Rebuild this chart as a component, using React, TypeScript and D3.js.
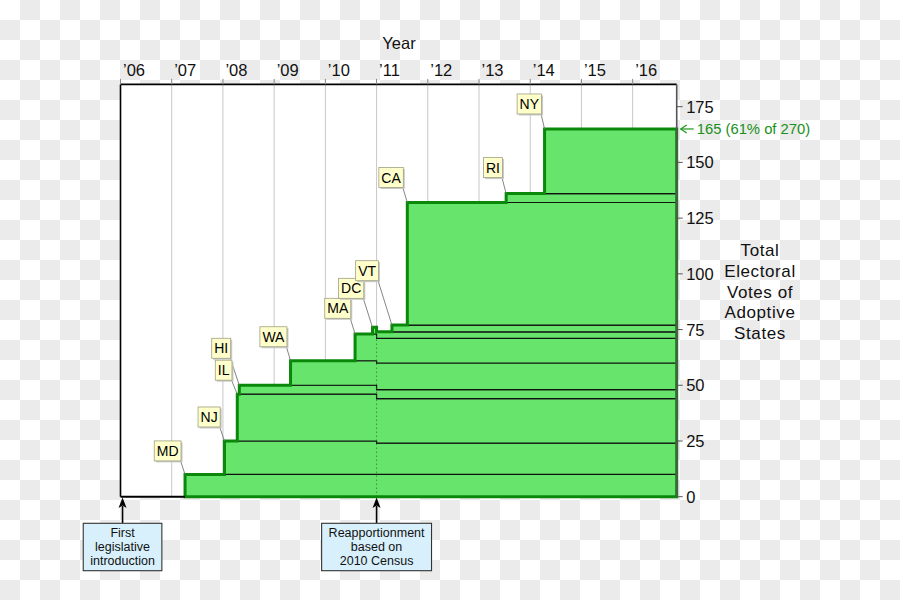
import React, { useEffect, useRef } from "react";
import * as d3 from "d3";

// ---- Data ----
const states = ["MD", "NJ", "IL", "HI", "WA", "MA", "DC", "VT", "CA", "RI", "NY"];
const adoptionYear = [2007.26, 2008.03, 2008.28, 2008.32, 2009.32, 2010.58, 2010.92, 2011.3, 2011.6, 2013.53, 2014.28];
const votes2000Census = [10, 15, 21, 4, 11, 12, 3, 3, 55, 4, 31];
const votes2010Census = [10, 14, 20, 4, 12, 11, 3, 3, 55, 4, 29];
const reapportionmentYear = 2011.0;
const startYear = 2006;
const endYear = 2016.86;
const yearTicks = [2006, 2007, 2008, 2009, 2010, 2011, 2012, 2013, 2014, 2015, 2016];
const yearTickLabels = ["\u201906", "\u201907", "\u201908", "\u201909", "\u201910", "\u201911", "\u201912", "\u201913", "\u201914", "\u201915", "\u201916"];
const voteTicks = [0, 25, 50, 75, 100, 125, 150, 175];
const eventYears = [2006.04, 2011.0];
const eventLabels = [
  ["First", "legislative", "introduction"],
  ["Reapportionment", "based on", "2010 Census"],
];
const finalNote = "165 (61% of 270)";
const yAxisTitle = ["Total", "Electoral", "Votes of", "Adoptive", "States"];
const xAxisTitle = "Year";

// ---- Layout (label box offsets: box bottom-right relative to step corner) ----
const labelOffsets: [number, number][] = [
  [-4, -13.5], [-4.3, -14], [-5.3, -14], [-8.6, -27], [-3.6, -14], [-4.3, -15.7],
  [-8.7, -29], [-13.4, -44.4], [-4, -15], [-3.7, -16], [-3, -15],
];

const W = 900, H = 600;
const L = 120.5, R = 676.7, T = 84.4, B = 496.7;
const FONT = "'Liberation Sans', Arial, sans-serif";
const GREEN_FILL = "#66e46c";
const GREEN_LINE = "#0a880a";

export default function App() {
  const ref = useRef<SVGSVGElement>(null);

  useEffect(() => {
    const svg = d3.select(ref.current);
    svg.selectAll("*").remove();

    const x = d3.scaleLinear().domain([startYear, endYear]).range([L, R]);
    const y = d3.scaleLinear().domain([0, 185]).range([B, T]);

    // checkerboard background
    const defs = svg.append("defs");
    const pat = defs.append("pattern").attr("id", "checker").attr("width", 40).attr("height", 40).attr("patternUnits", "userSpaceOnUse");
    pat.append("rect").attr("width", 40).attr("height", 40).attr("fill", "#ffffff");
    pat.append("rect").attr("x", 20).attr("y", 0).attr("width", 20).attr("height", 20).attr("fill", "#ebebeb");
    pat.append("rect").attr("x", 0).attr("y", 20).attr("width", 20).attr("height", 20).attr("fill", "#ebebeb");
    svg.append("rect").attr("width", W).attr("height", H).attr("fill", "url(#checker)");

    const arrow = defs.append("marker").attr("id", "arrowUp").attr("viewBox", "0 0 10 10")
      .attr("refX", 5).attr("refY", 0).attr("markerWidth", 8).attr("markerHeight", 10)
      .attr("markerUnits", "userSpaceOnUse").attr("orient", "auto-start-reverse");
    arrow.append("path").attr("d", "M0,10 L5,0 L10,10 L5,7 Z").attr("fill", "#000");

    // plot background
    svg.append("rect").attr("x", L).attr("y", T).attr("width", R - L).attr("height", B - T).attr("fill", "#fff");

    // gridlines
    svg.append("g").selectAll("line").data(yearTicks.slice(1)).join("line")
      .attr("x1", (d) => x(d)).attr("x2", (d) => x(d)).attr("y1", T).attr("y2", B)
      .attr("stroke", "#c8c8c8").attr("stroke-width", 1);

    // cumulative bounds
    const cum0: number[] = [], cum1: number[] = [];
    let s0 = 0, s1 = 0;
    states.forEach((_, i) => { cum0.push(s0); cum1.push(s1); s0 += votes2000Census[i]; s1 += votes2010Census[i]; });

    const bands = svg.append("g");
    states.forEach((_, i) => {
      const a = adoptionYear[i];
      const p = d3.path();
      if (a < reapportionmentYear) {
        const lo0 = cum0[i], hi0 = cum0[i] + votes2000Census[i];
        const lo1 = cum1[i], hi1 = cum1[i] + votes2010Census[i];
        p.moveTo(x(a), y(lo0));
        p.lineTo(x(reapportionmentYear), y(lo0));
        p.lineTo(x(reapportionmentYear), y(lo1));
        p.lineTo(x(endYear), y(lo1));
        p.lineTo(x(endYear), y(hi1));
        p.lineTo(x(reapportionmentYear), y(hi1));
        p.lineTo(x(reapportionmentYear), y(hi0));
        p.lineTo(x(a), y(hi0));
        p.closePath();
      } else {
        const lo = cum1[i], hi = cum1[i] + votes2010Census[i];
        p.moveTo(x(a), y(lo));
        p.lineTo(x(endYear), y(lo));
        p.lineTo(x(endYear), y(hi));
        p.lineTo(x(a), y(hi));
        p.closePath();
      }
      bands.append("path").attr("d", p.toString()).attr("fill", GREEN_FILL)
        .attr("stroke", "#111").attr("stroke-width", 1.2).attr("stroke-linejoin", "miter");
    });

    // totals over time
    const changes: { t: number; total: number }[] = [];
    const totalAt = (t: number) => {
      let s = 0;
      states.forEach((_, i) => {
        if (adoptionYear[i] <= t) s += t < reapportionmentYear ? votes2000Census[i] : votes2010Census[i];
      });
      return s;
    };
    const times = [...adoptionYear, reapportionmentYear].sort((a, b) => a - b);
    times.forEach((t) => changes.push({ t, total: totalAt(t) }));

    // reapportionment dotted line
    svg.append("line").attr("x1", x(reapportionmentYear)).attr("x2", x(reapportionmentYear))
      .attr("y1", y(0)).attr("y2", y(totalAt(reapportionmentYear)) + 2)
      .attr("stroke", "#2f5f2f").attr("stroke-width", 1).attr("stroke-dasharray", "1,3");

    // outline
    const op = d3.path();
    op.moveTo(x(changes[0].t), y(0));
    let prev = 0;
    changes.forEach((c) => { op.lineTo(x(c.t), y(prev)); op.lineTo(x(c.t), y(c.total)); prev = c.total; });
    op.lineTo(x(endYear), y(prev));
    op.lineTo(x(endYear), y(0));
    op.closePath();
    svg.append("path").attr("d", op.toString()).attr("fill", "none").attr("stroke", GREEN_LINE)
      .attr("stroke-width", 3).attr("stroke-linejoin", "miter");

    // plot borders
    svg.append("line").attr("x1", L).attr("x2", R).attr("y1", T).attr("y2", T).attr("stroke", "#000").attr("stroke-width", 1.6);
    svg.append("line").attr("x1", L).attr("x2", L).attr("y1", T).attr("y2", B).attr("stroke", "#000").attr("stroke-width", 1.6);
    svg.append("line").attr("x1", L).attr("x2", x(changes[0].t)).attr("y1", B).attr("y2", B).attr("stroke", "#000").attr("stroke-width", 2);
    svg.append("line").attr("x1", R).attr("x2", R).attr("y1", T).attr("y2", B).attr("stroke", "#555").attr("stroke-width", 1.6);

    // top axis
    const top = svg.append("g").attr("font-family", FONT);
    yearTicks.forEach((yr, i) => {
      top.append("line").attr("x1", x(yr)).attr("x2", x(yr)).attr("y1", T).attr("y2", T - 5.5).attr("stroke", "#888").attr("stroke-width", 1);
      top.append("text").attr("x", x(yr) + 2.5).attr("y", 76).attr("font-size", 16.5).attr("fill", "#111").text(yearTickLabels[i]);
    });
    top.append("text").attr("x", 399).attr("y", 49).attr("text-anchor", "middle").attr("font-size", 16.5).attr("fill", "#111").text(xAxisTitle);

    // right axis
    const right = svg.append("g").attr("font-family", FONT);
    voteTicks.forEach((v) => {
      right.append("line").attr("x1", R).attr("x2", R + 6).attr("y1", y(v)).attr("y2", y(v)).attr("stroke", "#555").attr("stroke-width", 1);
      right.append("text").attr("x", R + 9.5).attr("y", y(v) + 6).attr("font-size", 16.5).attr("fill", "#111").text(String(v));
    });
    const ttl = right.append("text").attr("text-anchor", "middle").attr("font-size", 17).attr("letter-spacing", 0.6).attr("fill", "#111");
    yAxisTitle.forEach((line, i) => {
      ttl.append("tspan").attr("x", 760).attr("y", 256 + i * 20.8).text(line);
    });

    // final note
    const finalTotal = changes[changes.length - 1].total;
    const fy = y(finalTotal);
    right.append("line").attr("x1", R + 4).attr("x2", R + 17).attr("y1", fy).attr("y2", fy).attr("stroke", "#1a9a1a").attr("stroke-width", 1.2);
    right.append("path").attr("d", `M${R + 10},${fy - 4} L${R + 4},${fy} L${R + 10},${fy + 4}`).attr("fill", "none").attr("stroke", "#1a9a1a").attr("stroke-width", 1.2);
    right.append("text").attr("x", R + 20).attr("y", fy + 5.2).attr("font-size", 14.8).attr("fill", "#1a8f1a").text(finalNote);

    // state labels
    const lab = svg.append("g").attr("font-family", FONT);
    states.forEach((st, i) => {
      const a = adoptionYear[i];
      const ax = x(a), ay = y(totalAt(a));
      const [dx, dy] = labelOffsets[i];
      const bx2 = ax + dx, by2 = ay + dy;
      const g = lab.append("g");
      const t = g.append("text").attr("font-size", 14).attr("fill", "#000").text(st);
      const tw = (t.node() as SVGTextElement).getComputedTextLength();
      const bw = tw + 5, bh = 20;
      const bx = bx2 - bw, by = by2 - bh;
      lab.insert("line", ":first-child").attr("x1", bx2 - 0.5).attr("y1", by2).attr("x2", ax).attr("y2", ay)
        .attr("stroke", "#777").attr("stroke-width", 0.9);
      g.insert("rect", "text").attr("x", bx + 1.5).attr("y", by + 1.5).attr("width", bw).attr("height", bh).attr("fill", "#c9c9c9");
      g.insert("rect", "text").attr("x", bx).attr("y", by).attr("width", bw).attr("height", bh)
        .attr("fill", "#ffffcc").attr("stroke", "#a0a080").attr("stroke-width", 0.8);
      t.attr("x", bx + bw / 2).attr("y", by + 15).attr("text-anchor", "middle");
    });

    // events
    const ev = svg.append("g").attr("font-family", FONT);
    eventYears.forEach((yr, i) => {
      const ex = x(yr);
      ev.append("line").attr("x1", ex).attr("x2", ex).attr("y1", 523).attr("y2", 506)
        .attr("stroke", "#000").attr("stroke-width", 1.6);
      ev.append("path").attr("d", `M${ex},${497.5} L${ex - 4},${508} L${ex},${505.5} L${ex + 4},${508} Z`).attr("fill", "#000");
      const g = ev.append("g");
      const txt = g.append("text").attr("text-anchor", "middle").attr("font-size", 12.5).attr("fill", "#111");
      eventLabels[i].forEach((line, k) => txt.append("tspan").attr("x", ex).attr("y", 537.3 + k * 14).text(line));
      let maxW = 0;
      txt.selectAll<SVGTSpanElement, unknown>("tspan").each(function () { maxW = Math.max(maxW, this.getComputedTextLength()); });
      const bw = maxW + 14;
      g.insert("rect", "text").attr("x", ex - bw / 2).attr("y", 523.3).attr("width", bw).attr("height", 47.4)
        .attr("fill", "#d8f0fc").attr("stroke", "#333").attr("stroke-width", 1.1);
    });
  }, []);

  return (
    <svg ref={ref} width={W} height={H} style={{ position: "absolute", left: 0, top: 0, display: "block" }} />
  );
}
